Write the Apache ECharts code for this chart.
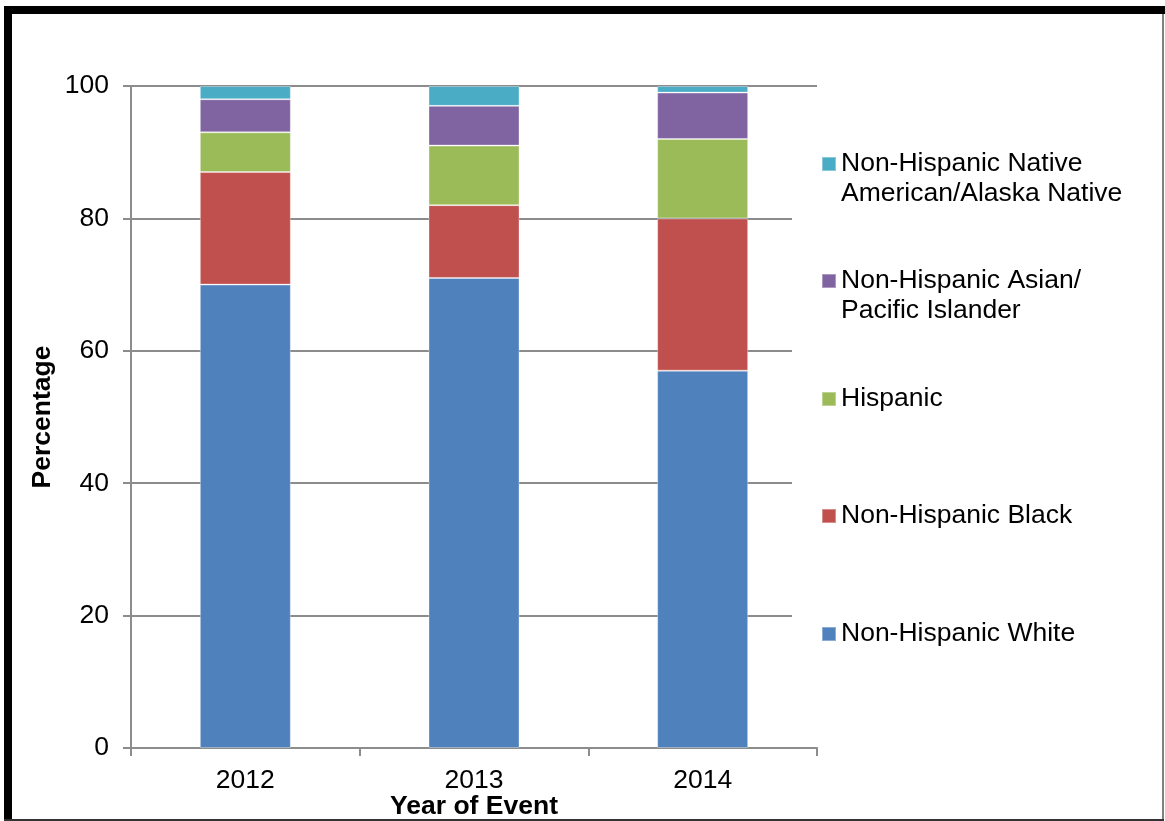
<!DOCTYPE html>
<html>
<head>
<meta charset="utf-8">
<title>Percentage by Year of Event</title>
<script src="https://cdn.jsdelivr.net/npm/echarts@6/dist/echarts.min.js"></script>
<style>
  html, body { margin: 0; padding: 0; background: #fff; }
  #chart { width: 1165px; height: 821px; }
</style>
</head>
<body>
<div id="chart"></div>
<script>
// Years on the category axis
const years = ['2012', '2013', '2014'];

// Share of events (%) per group, stacked bottom to top
const nhWhite = [70, 71, 57];
const nhBlack = [17, 11, 23];
const hispanic = [6, 9, 12];
const nhAsianPI = [5, 6, 7];
const nhNativeAmAK = [2, 3, 1];

// Y-axis tick values
const yTicks = [0, 20, 40, 60, 80, 100];

const FONT = 'Liberation Sans, Arial, sans-serif';
const FS = 26.5;

const seriesDefs = [
  { name: 'Non-Hispanic White', data: nhWhite, color: '#4F81BD' },
  { name: 'Non-Hispanic Black', data: nhBlack, color: '#C0504D' },
  { name: 'Hispanic', data: hispanic, color: '#9BBB59' },
  { name: 'Non-Hispanic Asian/\nPacific Islander', data: nhAsianPI, color: '#8064A2' },
  { name: 'Non-Hispanic Native\nAmerican/Alaska Native', data: nhNativeAmAK, color: '#4BACC6' }
];

// Legend entries listed top to bottom, with icon centre positions
const legendRows = [
  { idx: 4, y: 164 },
  { idx: 3, y: 281 },
  { idx: 2, y: 399 },
  { idx: 1, y: 516 },
  { idx: 0, y: 634 }
];

const LINE_H = 30;
const legends = legendRows.map(function (row) {
  const def = seriesDefs[row.idx];
  const twoLine = def.name.indexOf('\n') >= 0;
  return {
    show: true,
    orient: 'vertical',
    left: 821,
    // two-line names get a blank leading line so the marker sits beside the first line
    top: twoLine ? row.y - 1.5 * LINE_H : row.y - 0.5 * LINE_H,
    padding: 0,
    itemWidth: 14,
    itemHeight: 14,
    itemGap: 0,
    selectedMode: false,
    z: 10,
    icon: 'rect',
    data: [def.name],
    formatter: twoLine ? function (name) { return ' \n' + name; } : '{name}',
    textStyle: {
      fontFamily: FONT,
      fontSize: FS,
      lineHeight: LINE_H,
      color: '#000'
    }
  };
});

const chart = echarts.init(document.getElementById('chart'), null, { renderer: 'canvas' });

chart.setOption({
  backgroundColor: '#ffffff',
  animation: false,
  textStyle: { fontFamily: FONT },
  grid: { left: 131, right: 348, top: 86, bottom: 73, containLabel: false, outerBoundsMode: 'none' },
  legend: legends,
  xAxis: {
    type: 'category',
    data: years,
    name: 'Year of Event',
    nameLocation: 'middle',
    nameGap: 45,
    nameMoveOverlap: false,
    nameTextStyle: { fontFamily: FONT, fontSize: FS, fontWeight: 'bold', color: '#000' },
    axisLine: { show: true, lineStyle: { color: '#8c8c8c', width: 2 } },
    axisTick: { show: true, length: 8, lineStyle: { color: '#8c8c8c', width: 2 } },
    axisLabel: { fontFamily: FONT, fontSize: FS, color: '#000', margin: 19 },
    splitLine: { show: false }
  },
  yAxis: {
    type: 'value',
    min: yTicks[0],
    max: yTicks[yTicks.length - 1],
    interval: yTicks[1] - yTicks[0],
    name: 'Percentage',
    nameLocation: 'middle',
    nameGap: 75,
    nameMoveOverlap: false,
    nameTextStyle: { fontFamily: FONT, fontSize: FS, fontWeight: 'bold', color: '#000' },
    axisLine: { show: true, lineStyle: { color: '#8c8c8c', width: 2 } },
    axisTick: { show: true, length: 8, lineStyle: { color: '#8c8c8c', width: 2 } },
    axisLabel: { fontFamily: FONT, fontSize: FS, color: '#000', margin: 22 },
    splitLine: { show: true, lineStyle: { color: '#8c8c8c', width: 2 } }
  },
  graphic: [
    // white legend panel over the right end of the gridlines
    { type: 'rect', left: 792, top: 96, z: 1, silent: true,
      shape: { width: 368, height: 644 }, style: { fill: '#ffffff' } },
    // outer frame
    { type: 'rect', left: 4, top: 6, z: 20, silent: true,
      shape: { width: 1161, height: 8 }, style: { fill: '#000' } },
    { type: 'rect', left: 4, top: 6, z: 20, silent: true,
      shape: { width: 8, height: 815 }, style: { fill: '#000' } },
    { type: 'rect', left: 1162, top: 14, z: 20, silent: true,
      shape: { width: 2, height: 807 }, style: { fill: '#808080' } },
    { type: 'rect', left: 4, top: 819, z: 20, silent: true,
      shape: { width: 1160, height: 2 }, style: { fill: '#333' } }
  ],
  series: seriesDefs.map(function (def) {
    return {
      name: def.name,
      type: 'bar',
      stack: 'total',
      barWidth: 91,
      data: def.data,
      itemStyle: {
        color: def.color,
        borderColor: 'rgba(255,255,255,0.35)',
        borderWidth: 1
      },
      emphasis: { disabled: true }
    };
  })
});
</script>
</body>
</html>
